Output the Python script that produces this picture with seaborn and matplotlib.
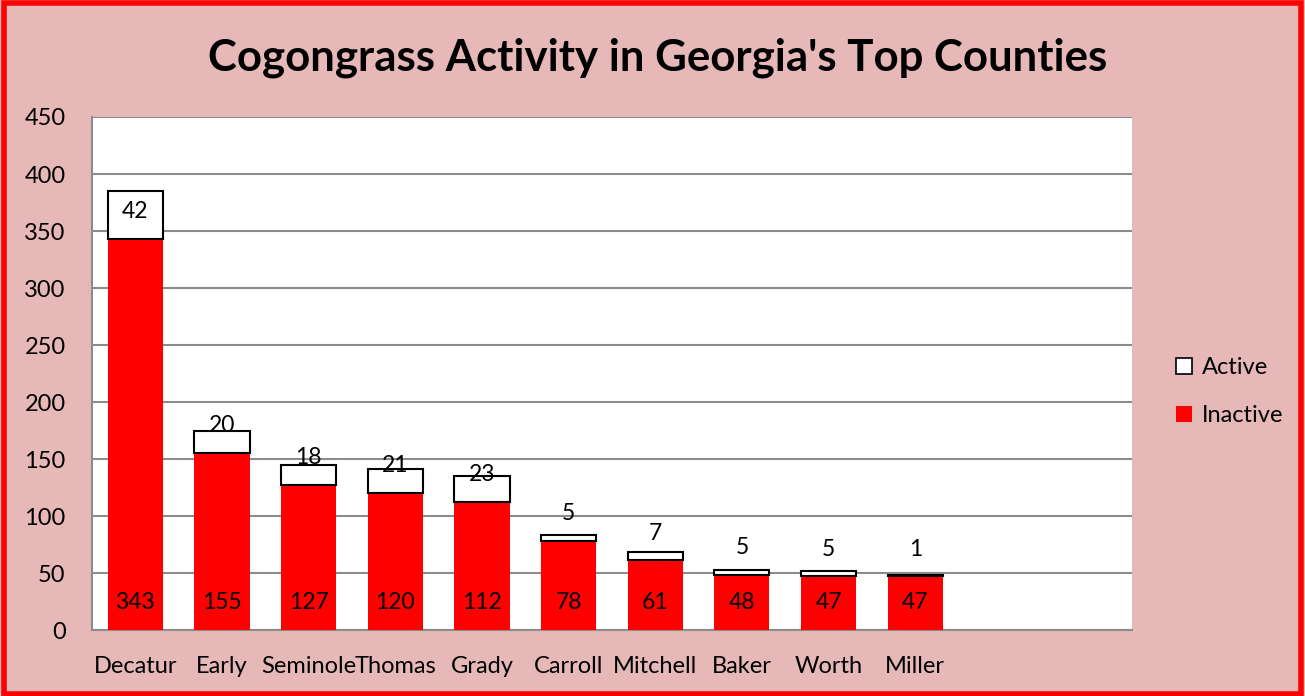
#!/usr/bin/env python3
import pandas as pd
import matplotlib.pyplot as plt
import matplotlib.patches as mpatches
import seaborn as sns

# datos
counties = ["Decatur", "Early", "Seminole", "Thomas", "Grady",
            "Carroll", "Mitchell", "Baker", "Worth", "Miller"]
inactive = [343, 155, 127, 120, 112, 78, 61, 48, 47, 47]
active = [42, 20, 18, 21, 23, 5, 7, 5, 5, 1]
# dos categorias vacias al final, como en el original
blank_slots = ["", " "]
y_ticks = list(range(0, 451, 50))

df = pd.DataFrame({"County": counties, "Inactive": inactive, "Active": active})
order = counties + blank_slots

sns.set_theme(style="white")
plt.rcParams["font.family"] = ["Lato", "DejaVu Sans"]
plt.rcParams["text.color"] = "black"

bg = "#E6B8B7"
red = "#FF0000"
grid_col = "#8C8C8C"

fig = plt.figure(figsize=(13.05, 6.96), dpi=100, facecolor=bg)
ax = fig.add_axes([0.0705, 0.0948, 0.7969, 0.7371])
ax.set_facecolor("white")

# Inactivo (rojo)
sns.barplot(data=df, x="County", y="Inactive", order=order, color=red,
            width=0.635, saturation=1, edgecolor="none", linewidth=0,
            ax=ax, zorder=3)
# Activo (blanco con borde negro) apilado encima
sns.barplot(data=df, x="County", y="Active", order=order, color="white",
            width=0.635, saturation=1, edgecolor="black", linewidth=1.5,
            bottom=df["Inactive"].values, ax=ax, zorder=3)

ax.set_xlim(-0.5, len(order) - 0.5)
ax.set_ylim(0, 450)
ax.set_yticks(y_ticks)
ax.yaxis.grid(True, color=grid_col, linewidth=1.5, zorder=0)
ax.set_axisbelow(True)
ax.set_xlabel("")
ax.set_ylabel("")
ax.tick_params(axis="both", length=0, labelsize=17, colors="black")
ax.tick_params(axis="x", pad=19)
ax.tick_params(axis="y", pad=19)

for side in ["top", "right"]:
    ax.spines[side].set_visible(False)
for side in ["left", "bottom"]:
    ax.spines[side].set_color(grid_col)
    ax.spines[side].set_linewidth(1.5)

# Etiquetas de datos
for i, (ina, act) in enumerate(zip(inactive, active)):
    ax.text(i, 24, str(ina), ha="center", va="center", fontsize=16.5,
            color="black", zorder=5)
    y_lab = max(ina + act / 2, ina + 24)
    ax.text(i, y_lab, str(act), ha="center", va="center", fontsize=16.5,
            color="black", zorder=5)

fig.text(0.504, 0.917, "Cogongrass Activity in Georgia's Top Counties",
         ha="center", va="center", fontsize=31.5, fontweight="bold", color="black")

handles = [mpatches.Patch(facecolor="white", edgecolor="black", linewidth=1.2, label="Active"),
           mpatches.Patch(facecolor=red, edgecolor="none", label="Inactive")]
fig.legend(handles=handles, loc="center left", bbox_to_anchor=(0.8845, 0.437),
           frameon=False, fontsize=17, handlelength=0.7, handleheight=0.7,
           handletextpad=0.4, labelspacing=1.15)

# borde rojo alrededor de la figura
fig.patches.append(mpatches.Rectangle((0.003, 0.003), 0.994, 0.992, transform=fig.transFigure,
                                      fill=False, edgecolor=red, linewidth=4))

plt.savefig("out.png", dpi=100, facecolor=bg)
